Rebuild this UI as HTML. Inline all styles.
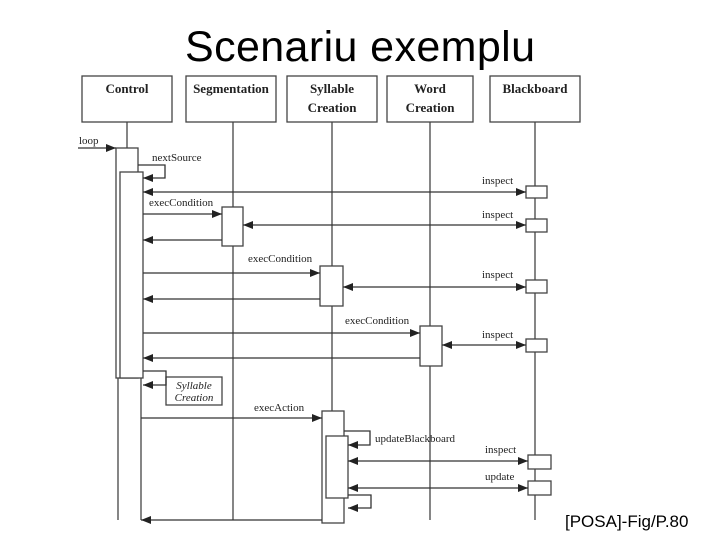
<!DOCTYPE html>
<html><head><meta charset="utf-8"><style>
html,body{margin:0;padding:0;background:#fff;}
svg{display:block;}
.t{font-family:"Liberation Serif",serif;fill:#222;}
</style></head><body>
<svg width="720" height="540" viewBox="0 0 720 540" xmlns="http://www.w3.org/2000/svg">
<defs>
<marker id="a" markerWidth="10" markerHeight="8" refX="10" refY="4" orient="auto" markerUnits="userSpaceOnUse"><path d="M0,0 L10,4 L0,8z" fill="#222"/></marker>
<marker id="b" markerWidth="10" markerHeight="8" refX="0" refY="4" orient="auto" markerUnits="userSpaceOnUse"><path d="M10,0 L0,4 L10,8z" fill="#222"/></marker>
</defs>
<text x="185" y="61" font-family="Liberation Sans, sans-serif" font-size="43" textLength="350" fill="#000">Scenariu exemplu</text>
<g fill="#fff" stroke="#444" stroke-width="1.3">
<rect x="82" y="76" width="90" height="46"/>
<rect x="186" y="76" width="90" height="46"/>
<rect x="287" y="76" width="90" height="46"/>
<rect x="387" y="76" width="86" height="46"/>
<rect x="490" y="76" width="90" height="46"/>
</g>
<g class="t" font-weight="bold" font-size="13" text-anchor="middle">
<text x="127" y="93">Control</text>
<text x="231" y="93">Segmentation</text>
<text x="332" y="93">Syllable</text><text x="332" y="112">Creation</text>
<text x="430" y="93">Word</text><text x="430" y="112">Creation</text>
<text x="535" y="93">Blackboard</text>
</g>
<g stroke="#444" stroke-width="1.3" fill="none">
<line x1="127" y1="122" x2="127" y2="148"/>
<line x1="233" y1="122" x2="233" y2="520"/>
<line x1="332" y1="122" x2="332" y2="520"/>
<line x1="430" y1="122" x2="430" y2="520"/>
<line x1="535" y1="122" x2="535" y2="520"/>
<line x1="118" y1="378" x2="118" y2="520"/>
<line x1="141" y1="372" x2="141" y2="520"/>
</g>
<g fill="#fff" stroke="#444" stroke-width="1.3">
<rect x="116" y="148" width="22" height="230"/>
<rect x="120" y="172" width="23" height="206"/>
<rect x="222" y="207" width="21" height="39"/>
<rect x="320" y="266" width="23" height="40"/>
<rect x="420" y="326" width="22" height="40"/>
<rect x="322" y="411" width="22" height="112"/>
<rect x="326" y="436" width="22" height="62"/>
<rect x="526" y="186" width="21" height="12"/>
<rect x="526" y="219" width="21" height="13"/>
<rect x="526" y="280" width="21" height="13"/>
<rect x="526" y="339" width="21" height="13"/>
<rect x="528" y="455" width="23" height="14"/>
<rect x="528" y="481" width="23" height="14"/>
<rect x="166" y="377" width="56" height="28"/>
</g>
<g stroke="#333" stroke-width="1.3" fill="none">
<line x1="78" y1="148" x2="116" y2="148" marker-end="url(#a)"/>
<polyline points="138,165 165,165 165,178 143,178" marker-end="url(#a)"/>
<line x1="143" y1="192" x2="526" y2="192" marker-start="url(#b)" marker-end="url(#a)"/>
<line x1="143" y1="214" x2="222" y2="214" marker-end="url(#a)"/>
<line x1="243" y1="225" x2="526" y2="225" marker-start="url(#b)" marker-end="url(#a)"/>
<line x1="222" y1="240" x2="143" y2="240" marker-end="url(#a)"/>
<line x1="143" y1="273" x2="320" y2="273" marker-end="url(#a)"/>
<line x1="343" y1="287" x2="526" y2="287" marker-start="url(#b)" marker-end="url(#a)"/>
<line x1="320" y1="299" x2="143" y2="299" marker-end="url(#a)"/>
<line x1="143" y1="333" x2="420" y2="333" marker-end="url(#a)"/>
<line x1="442" y1="345" x2="526" y2="345" marker-start="url(#b)" marker-end="url(#a)"/>
<line x1="420" y1="358" x2="143" y2="358" marker-end="url(#a)"/>
<polyline points="143,371 166,371 166,385 143,385" marker-end="url(#a)"/>
<line x1="141" y1="418" x2="322" y2="418" marker-end="url(#a)"/>
<polyline points="344,431 370,431 370,445 348,445" marker-end="url(#a)"/>
<line x1="348" y1="461" x2="528" y2="461" marker-start="url(#b)" marker-end="url(#a)"/>
<line x1="348" y1="488" x2="528" y2="488" marker-start="url(#b)" marker-end="url(#a)"/>
<polyline points="348,495 371,495 371,508 348,508" marker-end="url(#a)"/>
<line x1="322" y1="520" x2="141" y2="520" marker-end="url(#a)"/>
</g>
<g class="t" font-size="11">
<text x="79" y="144">loop</text>
<text x="152" y="161">nextSource</text>
<text x="482" y="184">inspect</text>
<text x="149" y="206">execCondition</text>
<text x="482" y="218">inspect</text>
<text x="248" y="262">execCondition</text>
<text x="482" y="278">inspect</text>
<text x="345" y="324">execCondition</text>
<text x="482" y="338">inspect</text>
<text x="254" y="411">execAction</text>
<text x="375" y="442">updateBlackboard</text>
<text x="485" y="453">inspect</text>
<text x="485" y="480">update</text>
<text x="194" y="389" font-style="italic" text-anchor="middle">Syllable</text>
<text x="194" y="401" font-style="italic" text-anchor="middle">Creation</text>
</g>
<text x="565" y="527" font-family="Liberation Sans, sans-serif" font-size="17" fill="#000">[POSA]-Fig/P.80</text>
</svg>
</body></html>
